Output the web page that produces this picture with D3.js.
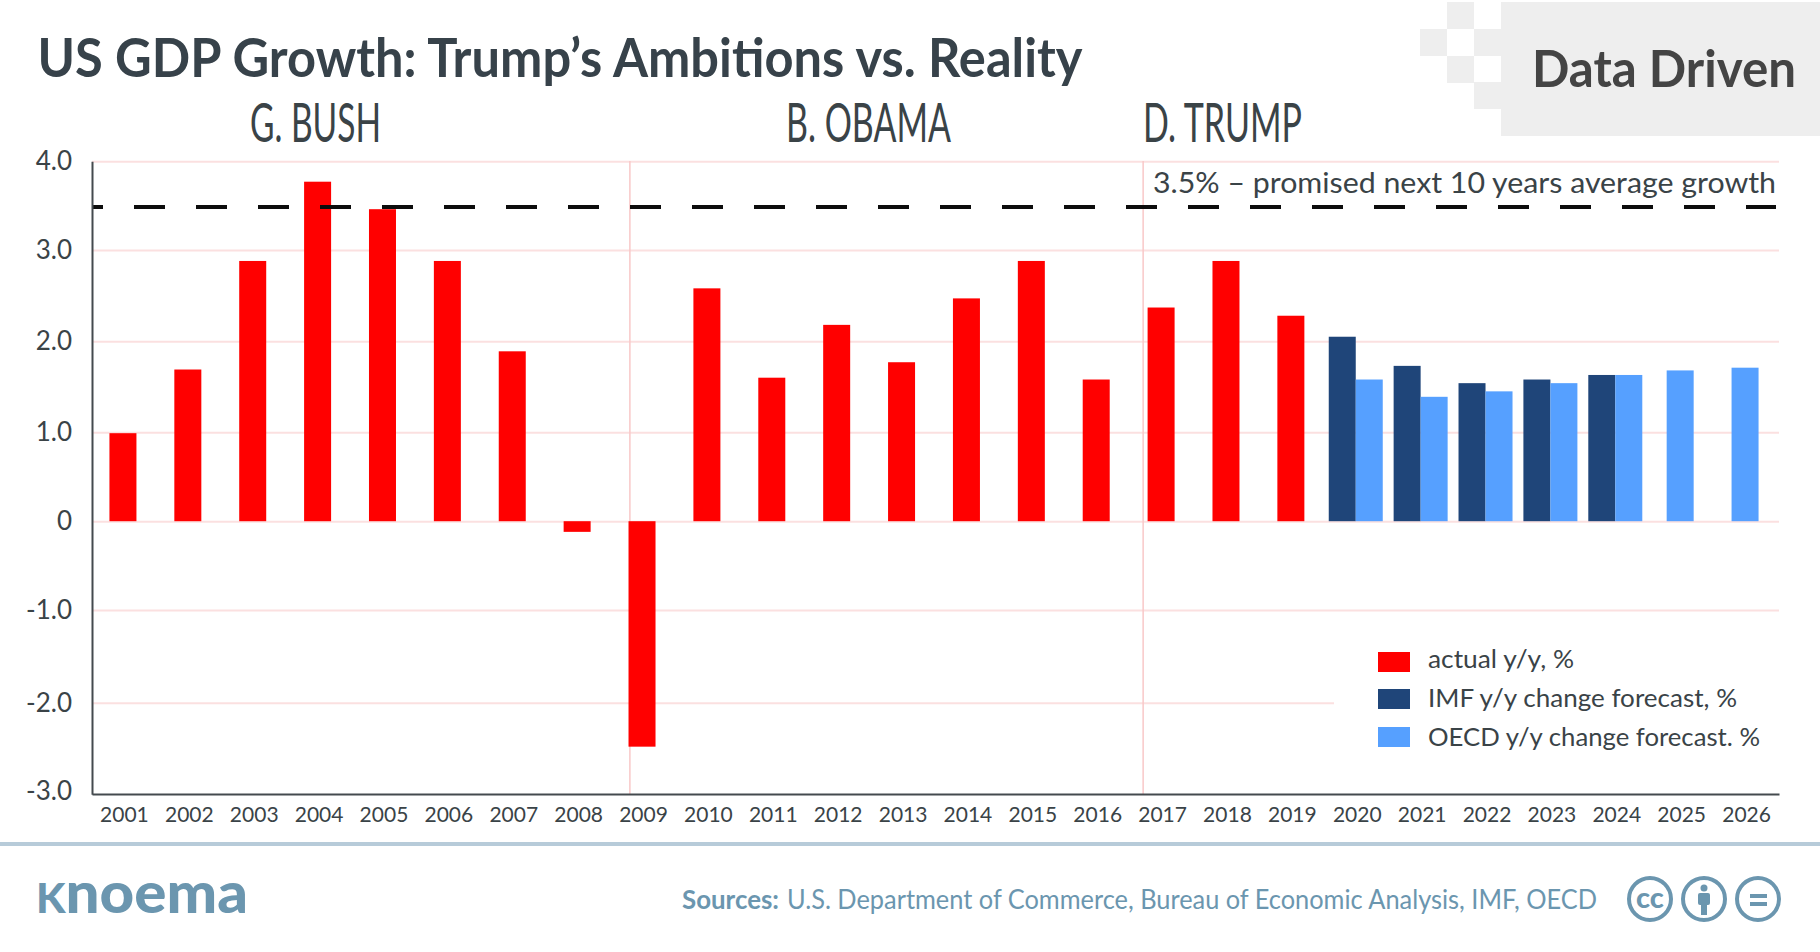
<!DOCTYPE html>
<html>
<head>
<meta charset="utf-8">
<script src="https://cdn.jsdelivr.net/npm/d3@7"></script>
<style>
    html, body { margin: 0; padding: 0; background: #fff; }
    svg { display: block; }
    text { font-family: Lato, "Noto Sans", sans-serif; }
</style>
</head>
<body>
<div id="chart"></div>
<script>
// Data
const years = ["2001","2002","2003","2004","2005","2006","2007","2008","2009","2010","2011","2012","2013",
    "2014","2015","2016","2017","2018","2019","2020","2021","2022","2023","2024","2025","2026"];
const actualYears = years.slice(0, 19);
const actual = [0.99, 1.69, 2.88, 3.77, 3.46, 2.88, 1.89, -0.12, -2.48, 2.58, 1.6, 2.18, 1.77, 2.47, 2.88, 1.58, 2.37, 2.88, 2.28];
const imfYears = ["2020","2021","2022","2023","2024"];
const imf = [2.05, 1.73, 1.54, 1.58, 1.63];
const oecdYears = ["2020","2021","2022","2023","2024","2025","2026"];
const oecd = [1.58, 1.39, 1.45, 1.54, 1.63, 1.68, 1.71];
const yTicks = [-3, -2, -1, 0, 1, 2, 3, 4];
const promised = 3.5;
const termStarts = [2009.29, 2017.2];
const legendLabels = ["actual y/y, %", "IMF y/y change forecast, %", "OECD y/y change forecast. %"];

const colors = { actual: "#ff0000", imf: "#1f4579", oecd: "#56a0ff" };
const ink = "#3a4347";
const footerBlue = "#6b96af";

// Dimensions
const dimensions = { width: 1820, height: 952, left: 92, right: 1779, top: 161, bottom: 794 };
const barWidth = 27;
const barShift = -1.5;

const svg = d3.select("#chart")
    .append("svg")
    .attr("width", dimensions.width)
    .attr("height", dimensions.height);

// Scales. The gridlines in the picture are not evenly spaced, so y is piecewise
const xScale = d3.scaleBand().domain(years).range([dimensions.left, dimensions.right]);
const yearScale = d3.scaleLinear().domain([2001, 2027]).range([dimensions.left, dimensions.right]);
const yScale = d3.scaleLinear()
    .domain(yTicks)
    .range([794.3, 702.7, 610, 521.2, 432.3, 341.3, 250, 161.3]);

// Text that is squeezed to the width it has in the picture
function label(str, x, y, size, width, opts = {}) {
    return svg.append("text")
        .attr("x", x)
        .attr("y", y)
        .attr("font-size", size)
        .attr("font-weight", opts.weight || 400)
        .attr("fill", opts.fill || ink)
        .attr("textLength", width)
        .attr("lengthAdjust", "spacingAndGlyphs")
        .text(str);
}

// Header
label("US GDP Growth: Trump\u2019s Ambitions vs. Reality", 37.5, 77, 53, 1045, { weight: 700, fill: "#37424a" });

svg.append("rect").attr("x", 1501).attr("y", 2).attr("width", 319).attr("height", 134).attr("fill", "#eeeeee");
[[1447, 2], [1420, 29], [1474, 29], [1447, 56], [1474, 82]].forEach(([x, y]) => {
    svg.append("rect").attr("x", x).attr("y", y).attr("width", 27).attr("height", 27).attr("fill", "#eeeeee");
});
label("Data Driven", 1532, 87, 51, 264, { weight: 700, fill: "#444444" });

label("G. BUSH", 250, 142, 55, 131);
label("B. OBAMA", 786, 142, 55, 165);
label("D. TRUMP", 1143, 142, 55, 159);

// Gridlines
const grid = svg.append("g")
    .attr("transform", `translate(${dimensions.left}, 0)`)
    .call(d3.axisLeft(yScale).tickValues(yTicks.slice(1)).tickSize(-(dimensions.right - dimensions.left)).tickFormat(""));
grid.select(".domain").remove();
grid.selectAll("line").attr("stroke", "#fbe0e0").attr("stroke-width", 2);

// Start of each presidency
svg.append("g")
    .selectAll("line")
    .data(termStarts)
    .join("line")
    .attr("x1", d => yearScale(d))
    .attr("x2", d => yearScale(d))
    .attr("y1", dimensions.top)
    .attr("y2", dimensions.bottom)
    .attr("stroke", "#f9c8c8")
    .attr("stroke-width", 1.5);

// Bars
function drawBars(cats, values, color, offset) {
    svg.append("g")
        .selectAll("rect")
        .data(values)
        .join("rect")
        .attr("x", (d, i) => xScale(cats[i]) + xScale.bandwidth() / 2 + offset(cats[i]) + barShift)
        .attr("y", d => yScale(Math.max(0, d)))
        .attr("width", barWidth)
        .attr("height", d => Math.abs(yScale(d) - yScale(0)))
        .attr("fill", color);
}
drawBars(actualYears, actual, colors.actual, () => -barWidth / 2);
drawBars(imfYears, imf, colors.imf, () => -barWidth);
// the last two years have no IMF bar, so OECD sits in the middle
drawBars(oecdYears, oecd, colors.oecd, y => imfYears.includes(y) ? 0 : -barWidth / 2);

// Promised growth line
svg.append("line")
    .attr("x1", dimensions.left)
    .attr("x2", 1776)
    .attr("y1", yScale(promised) + 1.4)
    .attr("y2", yScale(promised) + 1.4)
    .attr("stroke", "#0d0d0d")
    .attr("stroke-width", 4)
    .attr("stroke-dasharray", "31 31")
    .attr("stroke-dashoffset", 20);
label("3.5% \u2013 promised next 10 years average growth", 1153, 192.5, 28, 623);

// Axes
const yAxis = d3.axisLeft(yScale)
    .tickValues(yTicks)
    .tickSize(0)
    .tickPadding(20)
    .tickFormat(d => d === 0 ? "0" : d3.format(".1f")(d).replace("\u2212", "-"));
const yAxisGroup = svg.append("g")
    .attr("transform", `translate(${dimensions.left}, 0)`)
    .call(yAxis);

const xAxis = d3.axisBottom(xScale).tickSize(0).tickPadding(13);
const xAxisGroup = svg.append("g")
    .attr("transform", `translate(0, ${dimensions.bottom})`)
    .call(xAxis);

yAxisGroup.selectAll("text").attr("font-size", 26).attr("fill", ink).style("font-family", "Lato");
yAxisGroup.selectAll("text").filter(d => d === -3).attr("y", -3.5);
xAxisGroup.selectAll("text").attr("font-size", 21).attr("fill", ink).style("font-family", "Lato");
svg.selectAll(".domain").attr("stroke", "#444a4e").attr("stroke-width", 2);

// Legend, its white box interrupts the -2.0 gridline
svg.append("rect").attr("x", 1334).attr("y", 640).attr("width", 446).attr("height", 125).attr("fill", "#fff");
const legendRows = [
    { color: colors.actual, y: 652, base: 668, width: 146 },
    { color: colors.imf, y: 689, base: 707, width: 309 },
    { color: colors.oecd, y: 727, base: 746, width: 332 }
];
legendRows.forEach((row, i) => {
    svg.append("rect").attr("x", 1378).attr("y", row.y).attr("width", 32).attr("height", 20).attr("fill", row.color);
    label(legendLabels[i], 1428, row.base, 25, row.width);
});

// Footer
svg.append("rect").attr("x", 0).attr("y", 842).attr("width", 1820).attr("height", 4).attr("fill", "#b7cbd9");

const logo = svg.append("text")
    .attr("x", 36)
    .attr("y", 913)
    .attr("font-size", 58)
    .attr("font-weight", 900)
    .attr("fill", footerBlue)
    .attr("textLength", 212)
    .attr("lengthAdjust", "spacingAndGlyphs");
logo.append("tspan").style("font-variant", "small-caps").text("k");
logo.append("tspan").text("noema");

label("Sources:", 682, 909, 26, 97, { weight: 700, fill: footerBlue });
label("U.S. Department of Commerce, Bureau of Economic Analysis, IMF, OECD", 787, 909, 26, 810, { fill: footerBlue });

// Licence badges
const badgeY = 899;
[1650, 1704, 1758].forEach(cx => {
    svg.append("circle").attr("cx", cx).attr("cy", badgeY).attr("r", 21)
        .attr("fill", "none").attr("stroke", footerBlue).attr("stroke-width", 4);
});
svg.append("text").attr("x", 1650).attr("y", 908).attr("text-anchor", "middle")
    .attr("font-size", 29).attr("font-weight", 900).attr("fill", footerBlue).text("cc");
svg.append("circle").attr("cx", 1704).attr("cy", 888).attr("r", 3.5).attr("fill", footerBlue);
svg.append("rect").attr("x", 1698).attr("y", 893).attr("width", 12).attr("height", 12).attr("rx", 2).attr("fill", footerBlue);
svg.append("rect").attr("x", 1701).attr("y", 903).attr("width", 6).attr("height", 12).attr("fill", footerBlue);
svg.append("rect").attr("x", 1750).attr("y", 894).attr("width", 17).attr("height", 4).attr("fill", footerBlue);
svg.append("rect").attr("x", 1750).attr("y", 902).attr("width", 17).attr("height", 4).attr("fill", footerBlue);
</script>
</body>
</html>
